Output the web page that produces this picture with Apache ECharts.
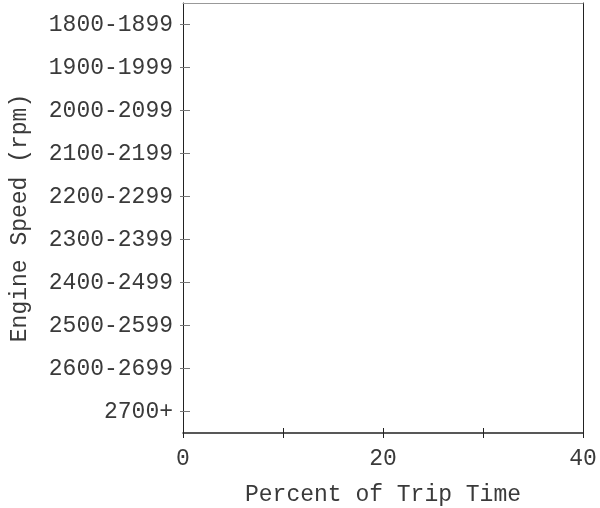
<!DOCTYPE html>
<html>
<head>
<meta charset="utf-8">
<script src="https://cdn.jsdelivr.net/npm/echarts@6/dist/echarts.min.js"></script>
<style>html,body{margin:0;padding:0;background:#fff}#c{width:600px;height:508px}</style>
</head>
<body>
<div id="c"></div>
<script>
var categories = ['1800-1899','1900-1999','2000-2099','2100-2199','2200-2299','2300-2399','2400-2499','2500-2599','2600-2699','2700+'];
var percentValues = [0,0,0,0,0,0,0,0,0,0];
var xTickLabels = [0, 20, 40];

var FONT = 'Liberation Mono';
var TXT = '#3a3a3a';
var FS = 23;
var gridRect = {left: 183, right: 17, top: 3, bottom: 75, containLabel: false, outerBoundsMode: 'none'};
var chart = echarts.init(document.getElementById('c'), null, {renderer: 'canvas'});
chart.setOption({
  animation: false,
  backgroundColor: '#fff',
  grid: [Object.assign({}, gridRect), Object.assign({}, gridRect)],
  xAxis: [
    {type: 'value', gridIndex: 0, min: 0, max: 40, interval: 10, position: 'bottom',
     name: 'Percent of Trip Time', nameLocation: 'middle', nameGap: 50,
     nameTextStyle: {fontFamily: FONT, fontSize: FS, color: TXT},
     axisLine: {show: true, onZero: false, lineStyle: {color: '#222', width: 1.5}},
     axisTick: {show: true, length: 5, inside: false, lineStyle: {color: '#222', width: 1}},
     axisLabel: {margin: 14, fontFamily: FONT, fontSize: FS, color: TXT,
       formatter: function (v) { return xTickLabels.indexOf(v) >= 0 ? String(v) : ''; }},
     splitLine: {show: false}},
    {type: 'value', gridIndex: 0, min: 0, max: 40, interval: 10, position: 'top',
     axisLine: {show: true, onZero: false, lineStyle: {color: '#999', width: 1}},
     axisTick: {show: false}, axisLabel: {show: false}, splitLine: {show: false}},
    {type: 'value', gridIndex: 1, min: 0, max: 40, interval: 10, position: 'bottom',
     axisLine: {show: false, onZero: false},
     axisTick: {show: true, length: 5, inside: true, lineStyle: {color: '#222', width: 1}},
     axisLabel: {show: false}, splitLine: {show: false}}
  ],
  yAxis: [
    {type: 'category', gridIndex: 0, data: categories, inverse: true, position: 'left',
     name: 'Engine Speed (rpm)', nameLocation: 'middle', nameGap: 152, nameRotate: 90,
     nameTextStyle: {fontFamily: FONT, fontSize: FS, color: TXT},
     axisLine: {show: true, onZero: false, lineStyle: {color: '#222', width: 1}},
     axisTick: {show: true, alignWithLabel: true, length: 3, inside: false, lineStyle: {color: '#777', width: 1}},
     axisLabel: {margin: 10, fontFamily: FONT, fontSize: FS, color: TXT},
     splitLine: {show: false}},
    {type: 'category', gridIndex: 0, data: categories, inverse: true, position: 'right',
     axisLine: {show: true, onZero: false, lineStyle: {color: '#222', width: 1}},
     axisTick: {show: false}, axisLabel: {show: false}, splitLine: {show: false}},
    {type: 'category', gridIndex: 1, data: categories, inverse: true, position: 'left',
     axisLine: {show: false, onZero: false},
     axisTick: {show: true, alignWithLabel: true, length: 7, inside: true, lineStyle: {color: '#777', width: 1}},
     axisLabel: {show: false}, splitLine: {show: false}}
  ],
  series: [
    {type: 'bar', xAxisIndex: 0, yAxisIndex: 0, data: percentValues,
     itemStyle: {color: '#4c72b0'}, barWidth: '60%'}
  ]
});
</script>
</body>
</html>
